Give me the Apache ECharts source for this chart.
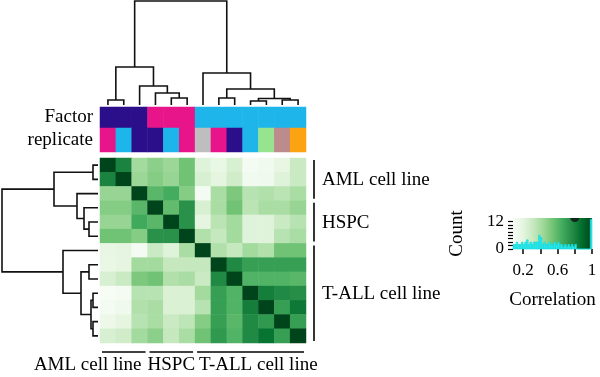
<!DOCTYPE html>
<html>
<head>
<meta charset="utf-8">
<script src="https://cdn.jsdelivr.net/npm/echarts@6/dist/echarts.min.js"></script>
<style>
  html, body { margin: 0; padding: 0; background: #fff; }
  #main { width: 600px; height: 377px; }
</style>
</head>
<body>
<div id="main"></div>
<script>
// samples in dendrogram order (rows and columns share it)
const samples = ['AML_a', 'AML_b', 'AML_c', 'HSPC_a', 'HSPC_b', 'HSPC_c',
  'TALL_a', 'TALL_b', 'TALL_c', 'TALL_d', 'TALL_e', 'TALL_f', 'TALL_g'];

// correlation matrix, row by row
const corr = [
  [1.00, 0.80, 0.42, 0.48, 0.44, 0.55, 0.22, 0.17, 0.25, 0.10, 0.12, 0.18, 0.30],
  [0.80, 1.00, 0.44, 0.50, 0.45, 0.55, 0.25, 0.20, 0.28, 0.12, 0.13, 0.22, 0.30],
  [0.45, 0.45, 1.00, 0.60, 0.65, 0.50, 0.10, 0.40, 0.52, 0.36, 0.38, 0.35, 0.40],
  [0.50, 0.50, 0.60, 1.00, 0.58, 0.75, 0.25, 0.40, 0.55, 0.35, 0.40, 0.40, 0.45],
  [0.45, 0.45, 0.66, 0.60, 1.00, 0.75, 0.20, 0.35, 0.42, 0.22, 0.22, 0.30, 0.36],
  [0.55, 0.55, 0.50, 0.75, 0.75, 1.00, 0.38, 0.32, 0.42, 0.22, 0.22, 0.36, 0.40],
  [0.18, 0.20, 0.10, 0.30, 0.22, 0.40, 1.00, 0.38, 0.32, 0.42, 0.38, 0.55, 0.55],
  [0.17, 0.20, 0.42, 0.42, 0.32, 0.32, 0.32, 1.00, 0.78, 0.70, 0.70, 0.70, 0.70],
  [0.25, 0.30, 0.52, 0.55, 0.38, 0.40, 0.30, 0.78, 1.00, 0.62, 0.62, 0.62, 0.60],
  [0.08, 0.10, 0.36, 0.36, 0.24, 0.24, 0.42, 0.70, 0.62, 1.00, 0.82, 0.78, 0.76],
  [0.10, 0.13, 0.38, 0.40, 0.24, 0.24, 0.36, 0.70, 0.62, 0.82, 1.00, 0.70, 0.84],
  [0.15, 0.20, 0.36, 0.40, 0.30, 0.34, 0.50, 0.70, 0.60, 0.78, 0.72, 1.00, 0.70],
  [0.25, 0.28, 0.42, 0.48, 0.32, 0.40, 0.55, 0.72, 0.62, 0.78, 0.86, 0.70, 1.00]
];

// column annotations
const factor = ['AML', 'AML', 'AML', 'HSPC', 'HSPC', 'HSPC',
  'TALL', 'TALL', 'TALL', 'TALL', 'TALL', 'TALL', 'TALL'];
const replicate = ['r2', 'r1', 'r3', 'r3', 'r1', 'r2', 'r4', 'r2', 'r3', 'r1', 'r5', 'r6', 'r7'];
const factorColors = { AML: '#2b0e89', HSPC: '#e8148a', TALL: '#1db5ea' };
const replicateColors = {
  r1: '#1db5ea', r2: '#e8148a', r3: '#2b0e89', r4: '#bebebe',
  r5: '#96e58e', r6: '#bc8b8b', r7: '#fba313'
};

// hclust-style merges: negative = leaf (1-based), positive = earlier merge; third = height
const colMerge = [
  [-1, -2, 0.05], [-5, -6, 0.07], [-4, 2, 0.12], [-3, 3, 0.19], [1, 4, 0.38],
  [-8, -9, 0.07], [-10, -11, 0.04], [-12, -13, 0.05], [7, 8, 0.065], [6, 9, 0.16],
  [-7, 10, 0.32], [5, 11, 1.04]
];
const rowMerge = [
  [-1, -2, 0.05], [-5, -6, 0.09], [-4, 2, 0.14], [-3, 3, 0.21], [1, 4, 0.44],
  [-8, -9, 0.09], [-10, -11, 0.05], [-12, -13, 0.05], [7, 8, 0.07], [6, 9, 0.17],
  [-7, 10, 0.35], [5, 11, 0.96]
];

// group brackets: name, first index, last index, text alignment (bottom)
const rowGroups = [['AML cell line', 0, 2], ['HSPC', 3, 5], ['T-ALL cell line', 6, 12]];
const colGroups = [['AML cell line', 0, 2, 'right'], ['HSPC', 3, 5, 'center'], ['T-ALL cell line', 6, 12, 'left']];

// colour key + histogram
const greens = ['#f7fcf5', '#e5f5e0', '#c7e9c0', '#a1d99b', '#74c476', '#41ab5d', '#238b45', '#006d2c', '#00441b'];
const keyRange = [0.084, 1];
const histStart = 0.08, histWidth = 0.02;
const histCounts = [2, 2, 3, 2, 2, 3, 2, 3, 4, 2, 3, 2, 3, 3, 3, 6, 5, 2, 3, 2, 2, 3, 2, 2, 3, 2,
  3, 2, 2, 1, 2, 1, 2, 1, 2, 1, 2, 0, 0, 0, 0, 0, 0, 0, 0, 13];
const keyTicks = [0.2, 0.4, 0.6, 0.8, 1];
const keyLabels = [0.2, 0.6, 1];
const countTicks = [0, 1.5, 3, 4.5, 6, 7.5, 9, 10.5, 12];
const countLabels = [0, 12];

const FONT = '"Liberation Serif", "Times New Roman", serif';

function dendroSegments(merge) {
  const pos = [], ht = [], segs = [];
  merge.forEach(m => {
    const p = [m[0], m[1]].map(k => k < 0 ? [-k - 0.5, 0] : [pos[k - 1], ht[k - 1]]);
    const h = m[2];
    segs.push([[p[0][0], p[0][1]], [p[0][0], h], [p[1][0], h], [p[1][0], p[1][1]]]);
    pos.push((p[0][0] + p[1][0]) / 2);
    ht.push(h);
  });
  return segs;
}

const heatData = [];
corr.forEach((row, r) => row.forEach((v, c) => heatData.push([c, r, v])));

const chart = echarts.init(document.getElementById('main'));
const hidden = { show: false };
const W = 206;

chart.setOption({
  animation: false,
  grid: [
    { left: 100, top: 158, width: W, height: 185 },   // heatmap
    { left: 100, top: 107, width: W, height: 21 },    // factor
    { left: 100, top: 128, width: W, height: 24 },    // replicate
    { left: 100, top: 0, width: W, height: 105 },     // column dendrogram
    { left: 0, top: 158, width: 98, height: 185 },    // row dendrogram
    { left: 513, top: 218, width: 79, height: 31 }    // key
  ],
  xAxis: [
    { gridIndex: 0, type: 'category', data: samples, show: false },
    { gridIndex: 1, type: 'category', data: samples, show: false },
    { gridIndex: 2, type: 'category', data: samples, show: false },
    { gridIndex: 3, type: 'value', min: 0, max: samples.length, show: false },
    { gridIndex: 4, type: 'value', min: 0, max: 0.98, inverse: true, show: false },
    {
      gridIndex: 5, type: 'value', min: keyRange[0], max: keyRange[1],
      name: 'Correlation', nameLocation: 'middle', nameGap: 42,
      nameTextStyle: { fontFamily: FONT, fontSize: 19, color: '#000' },
      splitLine: hidden, axisLine: hidden,
      axisTick: { show: true, length: 5, customValues: keyTicks, lineStyle: { color: '#000', width: 1.5 } },
      axisLabel: { customValues: keyLabels, fontFamily: FONT, fontSize: 17, color: '#000', margin: 13 }
    }
  ],
  yAxis: [
    { gridIndex: 0, type: 'category', data: samples, inverse: true, show: false },
    {
      gridIndex: 1, type: 'category', data: ['Factor'],
      axisLine: hidden, axisTick: hidden,
      axisLabel: { fontFamily: FONT, fontSize: 19, color: '#000', margin: 7 }
    },
    {
      gridIndex: 2, type: 'category', data: ['replicate'],
      axisLine: hidden, axisTick: hidden,
      axisLabel: { fontFamily: FONT, fontSize: 19, color: '#000', margin: 7 }
    },
    { gridIndex: 3, type: 'value', min: 0, max: 1.05, show: false },
    { gridIndex: 4, type: 'value', min: 0, max: samples.length, inverse: true, show: false },
    {
      gridIndex: 5, type: 'value', min: 0, max: 13.5,
      name: 'Count', nameLocation: 'middle', nameGap: 46, nameRotate: 90,
      nameTextStyle: { fontFamily: FONT, fontSize: 19, color: '#000' },
      splitLine: hidden, axisLine: hidden,
      axisTick: { show: true, length: 5, customValues: countTicks, lineStyle: { color: '#000', width: 1.2 } },
      axisLabel: { customValues: countLabels, fontFamily: FONT, fontSize: 17, color: '#000', margin: 9 }
    }
  ],
  visualMap: {
    type: 'continuous', show: false, seriesIndex: 0,
    min: keyRange[0], max: keyRange[1], dimension: 2,
    inRange: { color: greens }
  },
  series: [
    {
      type: 'heatmap', xAxisIndex: 0, yAxisIndex: 0, data: heatData,
      itemStyle: { borderWidth: 0 }, emphasis: { disabled: true }
    },
    {
      type: 'heatmap', xAxisIndex: 1, yAxisIndex: 1,
      data: factor.map((f, i) => ({ value: [i, 0, 1], itemStyle: { color: factorColors[f] } })),
      emphasis: { disabled: true }
    },
    {
      type: 'heatmap', xAxisIndex: 2, yAxisIndex: 2,
      data: replicate.map((r, i) => ({ value: [i, 0, 1], itemStyle: { color: replicateColors[r] } })),
      emphasis: { disabled: true }
    },
    {
      type: 'lines', coordinateSystem: 'cartesian2d', xAxisIndex: 3, yAxisIndex: 3,
      polyline: true, silent: true, clip: false,
      lineStyle: { color: '#111', width: 1.6, opacity: 1 },
      data: dendroSegments(colMerge).map(s => ({ coords: s }))
    },
    {
      type: 'lines', coordinateSystem: 'cartesian2d', xAxisIndex: 4, yAxisIndex: 4,
      polyline: true, silent: true, clip: false,
      lineStyle: { color: '#111', width: 1.6, opacity: 1 },
      data: dendroSegments(rowMerge).map(s => ({ coords: s.map(p => [p[1], p[0]]) }))
    },
    {
      // row group brackets on the right
      type: 'custom', xAxisIndex: 0, yAxisIndex: 0, silent: true, clip: false,
      data: rowGroups.map(g => [samples.length - 1, g[1]]),
      renderItem: (params, api) => {
        const g = rowGroups[params.dataIndex];
        const size = api.size([1, 1]);
        const x = api.coord([samples.length - 1, g[1]])[0] + size[0] / 2 + 8;
        const y0 = api.coord([0, g[1]])[1] - size[1] / 2 + 2;
        const y1 = api.coord([0, g[2]])[1] + size[1] / 2 - 2;
        return {
          type: 'group',
          children: [
            { type: 'line', shape: { x1: x, y1: y0, x2: x, y2: y1 }, style: { stroke: '#000', lineWidth: 1.6 } },
            {
              type: 'text',
              style: { x: x + 8, y: (y0 + y1) / 2 + 1, text: g[0], font: '19px ' + FONT, fill: '#000', align: 'left', verticalAlign: 'middle' }
            }
          ]
        };
      }
    },
    {
      // column group brackets at the bottom
      type: 'custom', xAxisIndex: 0, yAxisIndex: 0, silent: true, clip: false,
      data: colGroups.map(g => [g[1], samples.length - 1]),
      renderItem: (params, api) => {
        const g = colGroups[params.dataIndex];
        const size = api.size([1, 1]);
        const y = api.coord([0, samples.length - 1])[1] + size[1] / 2 + 9;
        const x0 = api.coord([g[1], 0])[0] - size[0] / 2 + 2;
        const x1 = api.coord([g[2], 0])[0] + size[0] / 2 - 2;
        const tx = g[3] === 'right' ? x1 - 4 : g[3] === 'left' ? x0 + 2 : (x0 + x1) / 2;
        return {
          type: 'group',
          children: [
            { type: 'line', shape: { x1: x0, y1: y, x2: x1, y2: y }, style: { stroke: '#000', lineWidth: 1.6 } },
            {
              type: 'text',
              style: { x: tx, y: y + 4, text: g[0], font: '19px ' + FONT, fill: '#000', align: g[3], verticalAlign: 'top' }
            }
          ]
        };
      }
    },
    {
      // colour key gradient
      type: 'custom', xAxisIndex: 5, yAxisIndex: 5, silent: true, z: 1,
      data: [[keyRange[0], 0]],
      renderItem: (params, api) => {
        const p0 = api.coord([keyRange[0], 13.5]);
        const p1 = api.coord([keyRange[1], 0]);
        return {
          type: 'rect',
          shape: { x: p0[0], y: p0[1], width: p1[0] - p0[0], height: p1[1] - p0[1] },
          style: {
            fill: new echarts.graphic.LinearGradient(0, 0, 1, 0,
              greens.map((c, i) => ({ offset: i / (greens.length - 1), color: c })))
          }
        };
      }
    },
    {
      // histogram of correlations
      type: 'custom', xAxisIndex: 5, yAxisIndex: 5, silent: true, z: 3,
      data: histCounts.map((c, i) => [histStart + i * histWidth, histStart + (i + 1) * histWidth, c]),
      renderItem: (params, api) => {
        const lo = Math.max(api.value(0), keyRange[0]);
        const p0 = api.coord([lo, api.value(2)]);
        const p1 = api.coord([api.value(1), 0]);
        return {
          type: 'rect',
          shape: { x: p0[0], y: p0[1], width: p1[0] - p0[0], height: p1[1] - p0[1] },
          style: { fill: '#2fe9ec', stroke: '#12d8de', lineWidth: 0.6 }
        };
      }
    },
    {
      type: 'scatter', xAxisIndex: 5, yAxisIndex: 5, silent: true, z: 4,
      symbol: 'path://M0,0 A5,5 0 0 0 10,0 Z', symbolKeepAspect: false,
      symbolSize: [9, 4], symbolOffset: [0, 2],
      itemStyle: { color: '#111' },
      data: [[0.8, 13.5]]
    }
  ]
});
</script>
</body>
</html>
